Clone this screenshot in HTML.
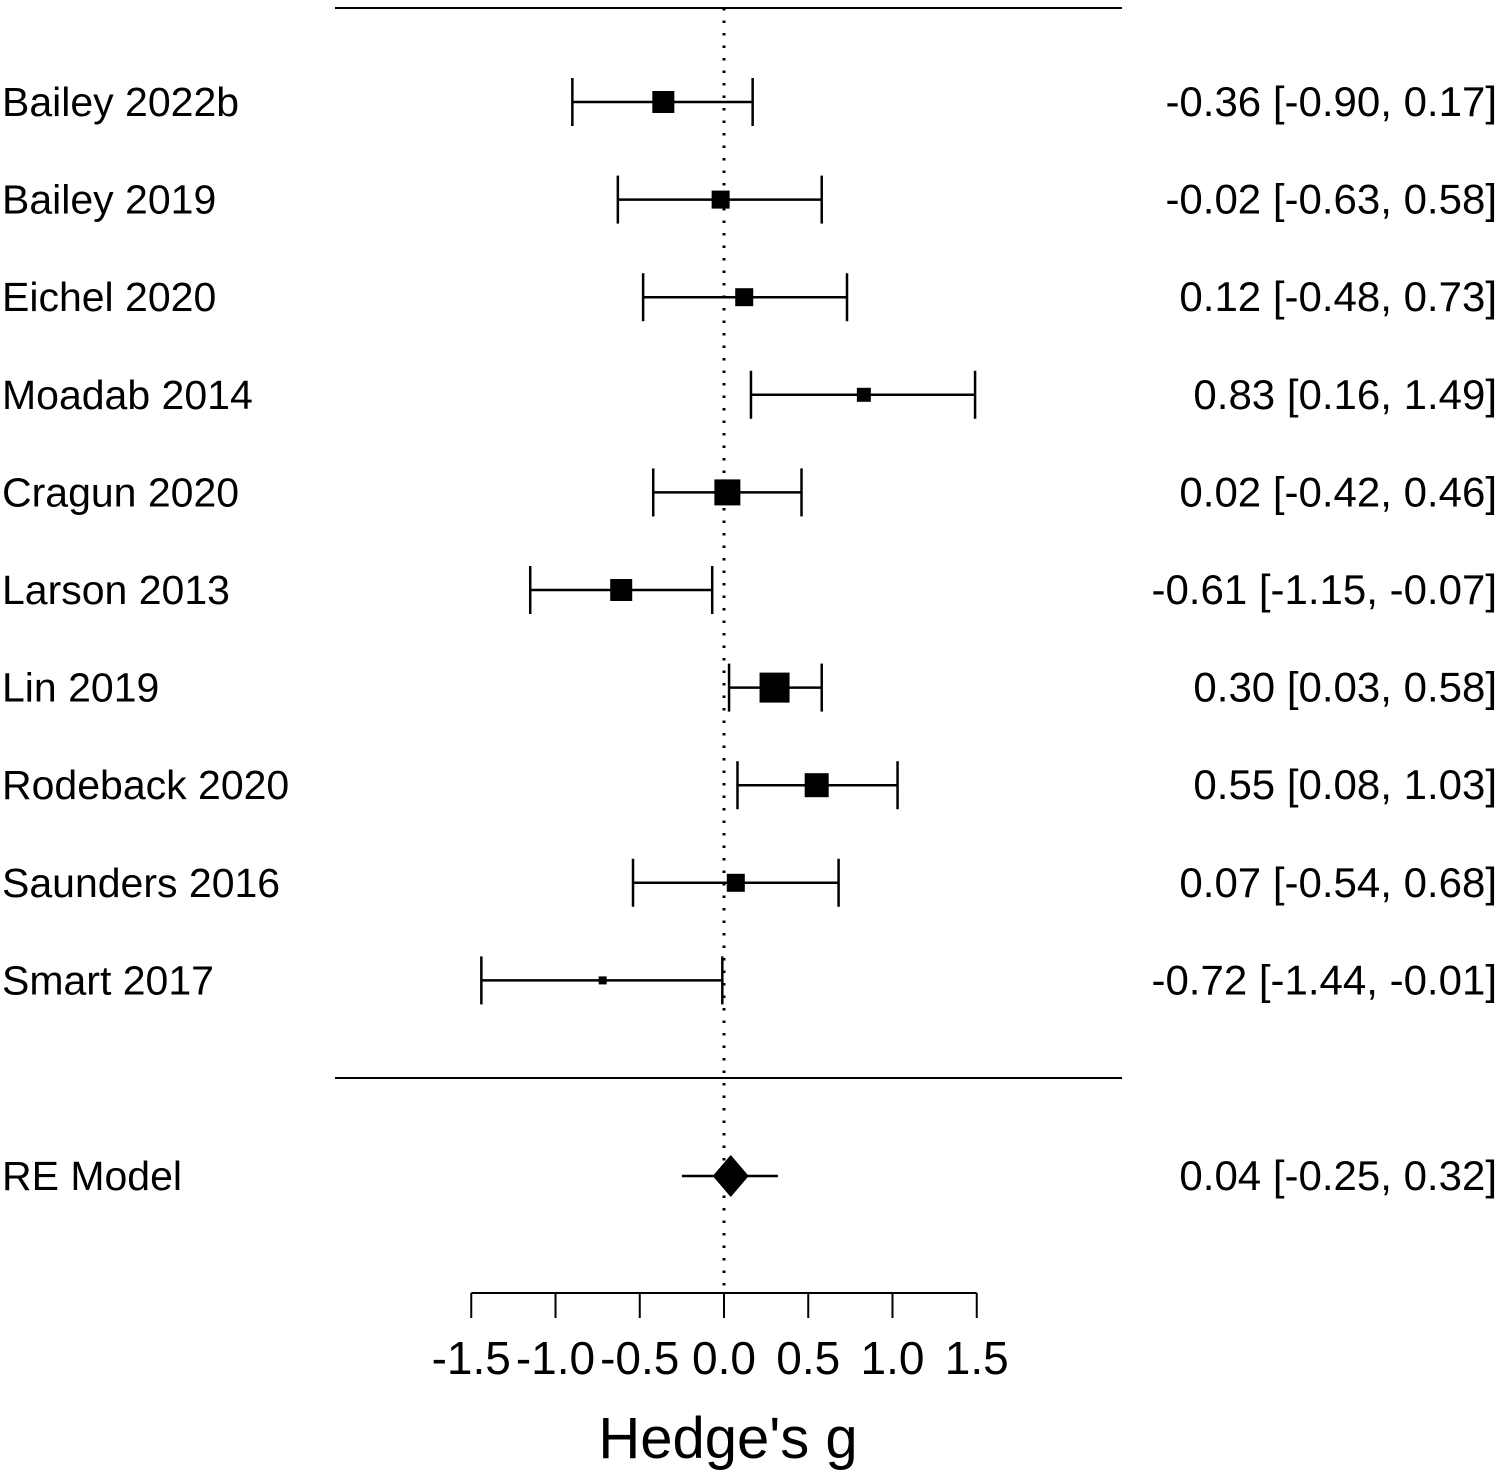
<!DOCTYPE html>
<html><head><meta charset="utf-8"><style>
body{margin:0;background:#fff;}
svg{display:block;font-family:"Liberation Sans",Arial,sans-serif;}
</style></head><body>
<svg id="c" width="1499" height="1476" viewBox="0 0 1499 1476"></svg>
<script>
const studies=["Bailey 2022b","Bailey 2019","Eichel 2020","Moadab 2014","Cragun 2020","Larson 2013","Lin 2019","Rodeback 2020","Saunders 2016","Smart 2017"];
const est=[-0.36,-0.02,0.12,0.83,0.02,-0.61,0.30,0.55,0.07,-0.72];
const lo=[-0.90,-0.63,-0.48,0.16,-0.42,-1.15,0.03,0.08,-0.54,-1.44];
const hi=[0.17,0.58,0.73,1.49,0.46,-0.07,0.58,1.03,0.68,-0.01];
const weights=[22,18,18,14,26,22,30,24,18,8];
const reModel=[0.04,-0.25,0.32];
const ticks=[-1.5,-1.0,-0.5,0.0,0.5,1.0,1.5];
const tickLabels=["-1.5","-1.0","-0.5","0.0","0.5","1.0","1.5"];
const NS="http://www.w3.org/2000/svg";
const svg=document.getElementById('c');
const x=v=>724+v*168.5;
const y=i=>102+i*97.6;
function mk(t,a,p){const e=document.createElementNS(NS,t);for(const k in a)e.setAttribute(k,a[k]);(p||svg).appendChild(e);return e;}
const f=v=>v.toFixed(2);
let e;
e=mk('line',{x1:335,x2:1122,y1:8,y2:8,stroke:'#000','stroke-width':2});

e=mk('line',{x1:335,x2:1122,y1:1078,y2:1078,stroke:'#000','stroke-width':2});

e=mk('line',{x1:x(0),x2:x(0),y1:8,y2:1293,stroke:'#000','stroke-width':3,'stroke-dasharray':'2.5 10'});

studies.forEach((s,i)=>{
 const g=mk('g',{});
 
 const yy=y(i);
 mk('line',{x1:x(lo[i]),x2:x(hi[i]),y1:yy,y2:yy,stroke:'#000','stroke-width':2.5},g);
 mk('line',{x1:x(lo[i]),x2:x(lo[i]),y1:yy-24,y2:yy+24,stroke:'#000','stroke-width':2.5},g);
 mk('line',{x1:x(hi[i]),x2:x(hi[i]),y1:yy-24,y2:yy+24,stroke:'#000','stroke-width':2.5},g);
 const w=weights[i];
 const r=mk('rect',{x:x(est[i])-w/2,y:yy-w/2,width:w,height:w,fill:'#000'},g);
 
 const t=mk('text',{x:2,y:yy+14,'font-size':41},g);t.textContent=s;
 
 const v=mk('text',{x:1497,y:yy+14,'font-size':42,'text-anchor':'end'},g);
 v.textContent=f(est[i])+" ["+f(lo[i])+", "+f(hi[i])+"]";
 
});
const ry=1176;
e=mk('line',{x1:x(reModel[1]),x2:x(reModel[2]),y1:ry,y2:ry,stroke:'#000','stroke-width':2.5});

const cx=x(reModel[0]);
e=mk('polygon',{points:`${cx-18},${ry} ${cx},${ry-21} ${cx+18},${ry} ${cx},${ry+21}`,fill:'#000'});

e=mk('text',{x:2,y:ry+14,'font-size':41});e.textContent="RE Model";

e=mk('text',{x:1497,y:ry+14,'font-size':42,'text-anchor':'end'});
e.textContent=f(reModel[0])+" ["+f(reModel[1])+", "+f(reModel[2])+"]";

e=mk('line',{x1:x(ticks[0]),x2:x(ticks[ticks.length-1]),y1:1293,y2:1293,stroke:'#000','stroke-width':2});

ticks.forEach((t,i)=>{
 const l=mk('line',{x1:x(t),x2:x(t),y1:1293,y2:1318,stroke:'#000','stroke-width':2});
 
 const tx=mk('text',{x:x(t),y:1374,'font-size':46,'text-anchor':'middle'});
 tx.textContent=tickLabels[i];
 
});
e=mk('text',{x:728,y:1458,'font-size':58,'text-anchor':'middle'});e.textContent="Hedge's g";

</script>
</body></html>
